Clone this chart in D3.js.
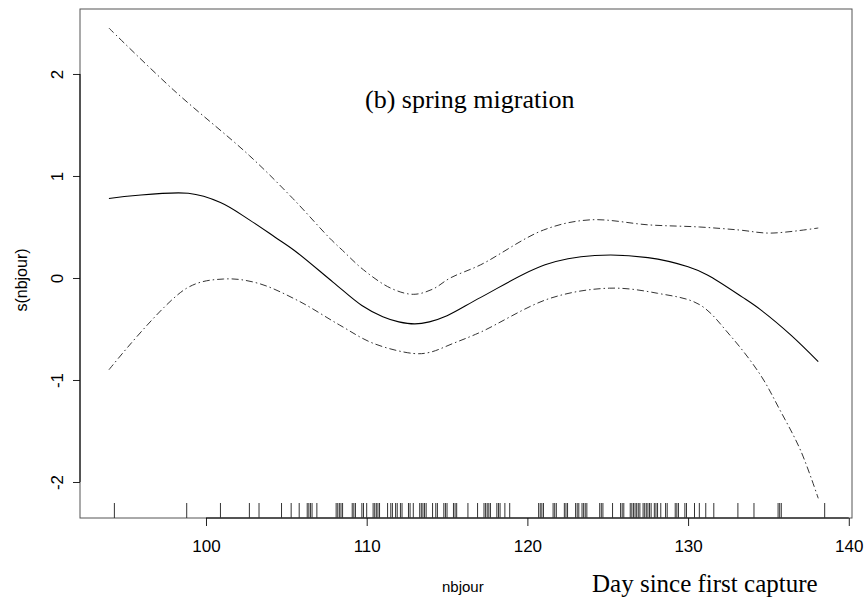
<!DOCTYPE html>
<html>
<head>
<meta charset="utf-8">
<script src="https://cdn.jsdelivr.net/npm/d3@7"></script>
<style>
  body { margin: 0; background: #fff; }
</style>
</head>
<body>
<script>
// smooth term s(nbjour) with its two standard-error bands
var fitDays   = [93.96, 98.9, 100.9, 102.7, 104.3, 105.5, 107.9, 109.7, 111.0, 112.0, 113.0, 113.9, 115.0, 117.1, 121.1, 124.2, 127.5, 130.0, 131.2, 133.4, 134.5, 136.4, 138.1];
var fitValues = [0.78, 0.83, 0.74, 0.57, 0.40, 0.27, -0.04, -0.27, -0.38, -0.43, -0.45, -0.43, -0.37, -0.19, 0.13, 0.22, 0.20, 0.11, 0.03, -0.19, -0.31, -0.56, -0.82];

var upperDays   = [93.96, 98.0, 102.7, 105.4, 107.7, 108.5, 109.8, 111.5, 112.9, 114.1, 115.2, 117.1, 121.0, 123.9, 127.6, 130.7, 133.2, 135.1, 138.1];
var upperValues = [2.45, 1.84, 1.20, 0.78, 0.39, 0.27, 0.08, -0.10, -0.16, -0.11, 0.0, 0.13, 0.47, 0.57, 0.52, 0.50, 0.47, 0.44, 0.49];

var lowerDays   = [93.96, 98.8, 101.1, 103.2, 105.7, 108.3, 110.4, 112.9, 113.9, 115.4, 117.1, 121.4, 125.1, 128.1, 130.7, 132.6, 134.5, 135.7, 137.0, 138.1];
var lowerValues = [-0.90, -0.10, -0.01, -0.05, -0.22, -0.46, -0.64, -0.74, -0.73, -0.64, -0.53, -0.20, -0.10, -0.15, -0.26, -0.56, -0.95, -1.29, -1.69, -2.16];

// rug of observed days
var rugDays = [94.3, 98.8, 100.9, 102.7, 103.3, 104.7, 105.3, 105.8, 106.3, 106.4, 106.5, 106.6, 106.9,
  108.1, 108.2, 108.3, 108.4, 108.5, 109.1, 109.2, 109.3, 109.7, 109.8, 110.0, 110.4, 110.5, 110.6, 110.7, 110.8,
  111.3, 111.5, 111.6, 111.8, 111.9, 112.1, 112.2, 112.6, 112.7, 112.9, 113.3, 113.4, 113.5, 113.6, 113.7,
  114.1, 114.3, 114.4, 114.8, 114.9, 115.0, 115.4, 115.5, 115.6, 116.3, 116.9, 117.3, 117.4, 117.5, 117.6, 117.7,
  118.1, 118.2, 118.3, 118.6, 118.9, 120.7, 120.8, 120.9, 121.0, 121.6, 121.7, 121.8, 122.3, 122.4, 122.5,
  123.0, 123.1, 123.2, 123.4, 123.5, 123.6, 123.7, 124.5, 124.6, 124.7, 125.3, 125.8, 125.9, 126.0,
  126.4, 126.5, 126.6, 126.7, 126.8, 126.9, 127.0, 127.2, 127.3, 127.4, 127.5, 127.6, 127.7, 127.9, 128.0, 128.1, 128.3,
  128.6, 128.7, 129.2, 129.3, 129.4, 129.8, 129.9, 130.4, 130.7, 131.1, 131.6, 133.1, 134.1, 135.6, 135.7, 135.8, 138.5];

var xTicks = [100, 110, 120, 130, 140];
var yTicks = [-2, -1, 0, 1, 2];

var w = 867, h = 599;
var plotLeft = 80, plotRight = 852, plotTop = 9, plotBottom = 518;

var svg = d3.select("body").append("svg")
  .attr("width", w)
  .attr("height", h);

var x = d3.scaleLinear().domain([92.16, 140.2]).range([plotLeft, plotRight]);
var y = d3.scaleLinear().domain([-2.353, 2.637]).range([plotBottom, plotTop]);

// frame
svg.append("rect")
  .attr("x", plotLeft).attr("y", plotTop)
  .attr("width", plotRight - plotLeft).attr("height", plotBottom - plotTop)
  .attr("fill", "none").attr("stroke", "#555").attr("stroke-width", 1);

// axes, plain hyphen for negatives like R
var plain = function(d){ return String(d); };
var xAxis = svg.append("g")
  .attr("transform", "translate(0," + plotBottom + ")")
  .call(d3.axisBottom(x).tickValues(xTicks).tickFormat(plain).tickSize(8).tickPadding(14));
var yAxis = svg.append("g")
  .attr("transform", "translate(" + plotLeft + ",0)")
  .call(d3.axisLeft(y).tickValues(yTicks).tickFormat(plain).tickSize(7).tickPadding(6));

[xAxis, yAxis].forEach(function(a){
  a.select(".domain").remove();
  a.selectAll("line").attr("stroke", "#222");
  a.selectAll("text")
    .attr("fill", "#000")
    .style("font-family", "Liberation Sans, Arial, sans-serif")
    .style("font-size", "17px");
});
// y tick labels read upwards
yAxis.selectAll(".tick text")
  .attr("text-anchor", "middle")
  .attr("x", 0).attr("dy", 0)
  .attr("transform", "translate(-17,0) rotate(-90)");

// axis lines between the extreme ticks
svg.append("line")
  .attr("x1", plotLeft).attr("x2", plotLeft)
  .attr("y1", y(-2)).attr("y2", y(2))
  .attr("stroke", "#000");
svg.append("line")
  .attr("x1", x(100)).attr("x2", x(140))
  .attr("y1", plotBottom).attr("y2", plotBottom)
  .attr("stroke", "#000");

// rug
svg.append("g").selectAll("line")
  .data(rugDays)
  .enter().append("line")
  .attr("x1", function(d){ return x(d); })
  .attr("x2", function(d){ return x(d); })
  .attr("y1", plotBottom)
  .attr("y2", plotBottom - 15)
  .attr("stroke", "#333")
  .attr("stroke-width", 1);

var line = d3.line()
  .x(function(d){ return x(d[0]); })
  .y(function(d){ return y(d[1]); })
  .curve(d3.curveCatmullRom.alpha(0.5));

function pairs(a, b){ return a.map(function(d, i){ return [d, b[i]]; }); }

svg.append("path")
  .datum(pairs(fitDays, fitValues))
  .attr("d", line)
  .attr("fill", "none").attr("stroke", "#000").attr("stroke-width", 1.1);

[pairs(upperDays, upperValues), pairs(lowerDays, lowerValues)].forEach(function(band){
  svg.append("path")
    .datum(band)
    .attr("d", line)
    .attr("fill", "none")
    .attr("stroke", "#333")
    .attr("stroke-width", 1)
    .attr("stroke-dasharray", "7,3,1.5,3");
});

// labels
svg.append("text")
  .attr("x", 365).attr("y", 108)
  .style("font-family", "Liberation Serif, Times New Roman, serif")
  .style("font-size", "26px")
  .text("(b) spring migration");

svg.append("text")
  .attr("transform", "translate(27,280) rotate(-90)")
  .attr("text-anchor", "middle")
  .style("font-family", "Liberation Sans, Arial, sans-serif")
  .style("font-size", "16px")
  .text("s(nbjour)");

svg.append("text")
  .attr("x", 442).attr("y", 592)
  .style("font-family", "Liberation Sans, Arial, sans-serif")
  .style("font-size", "15px")
  .text("nbjour");

svg.append("text")
  .attr("x", 592).attr("y", 592)
  .style("font-family", "Liberation Serif, Times New Roman, serif")
  .style("font-size", "25px")
  .text("Day since first capture");
</script>
</body>
</html>
